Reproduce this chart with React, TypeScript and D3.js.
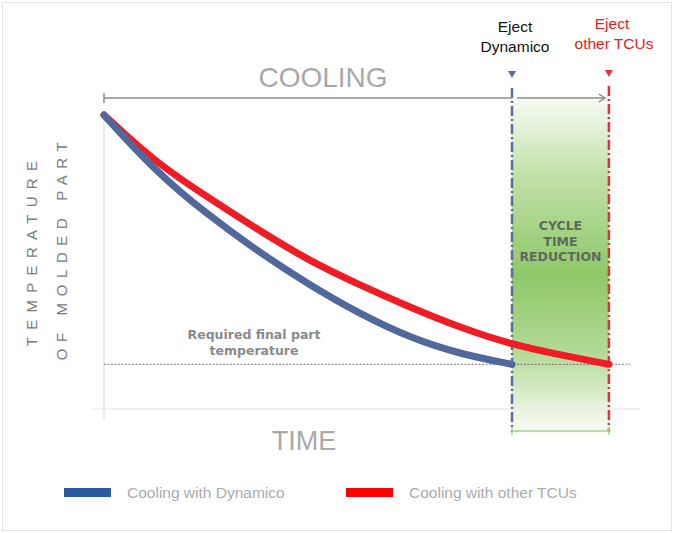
import React from 'react';
import * as d3 from 'd3';

// time (0-100) vs part temperature (0-100)
const dynamicoTime = [0, 10, 20, 30, 40, 50, 60, 70, 80];
const dynamicoTemp = [100, 81, 66.5, 53.8, 42.5, 32.5, 24.2, 18.6, 15.2];
const otherTime = [0, 10, 20, 30, 40, 50, 60, 70, 80, 90, 99];
const otherTemp = [100, 84, 72.4, 61.2, 50.6, 42.3, 34.6, 27.6, 21.9, 18.2, 15.2];
const requiredTemp = 15.2;
const ejectTimes = [80, 99];
const seriesNames = ['Cooling with Dynamico', 'Cooling with other TCUs'];
const seriesColors = ['#51689c', '#ee1c25'];
const legendColors = ['#2a5b9e', '#ff0000'];

const W = 674;
const H = 533;

export default function App() {
  const x = d3.scaleLinear().domain([0, 100]).range([104, 614]);
  const y = d3.scaleLinear().domain([0, 100]).range([409, 115]);

  const line = d3.line<[number, number]>()
    .x(d => x(d[0]))
    .y(d => y(d[1]))
    .curve(d3.curveBasis);

  const blue = dynamicoTime.map((t, i) => [t, dynamicoTemp[i]] as [number, number]);
  const red = otherTime.map((t, i) => [t, otherTemp[i]] as [number, number]);

  const xa = x(ejectTimes[0]);
  const xb = x(ejectTimes[1]);
  const yReq = y(requiredTemp);

  const font = '"Liberation Sans", Arial, sans-serif';
  const boldFont = '"DejaVu Sans", sans-serif';

  return (
    <svg width={W} height={H} style={{ position: 'absolute', left: 0, top: 0, background: '#fff' }}>
      <defs>
        <linearGradient id="green" x1="0" y1="0" x2="0" y2="1">
          <stop offset="0%" stopColor="#f6fbf2" />
          <stop offset="22%" stopColor="#c3e1aa" />
          <stop offset="52%" stopColor="#8ec867" />
          <stop offset="75%" stopColor="#b3d996" />
          <stop offset="92%" stopColor="#e8f3df" />
          <stop offset="100%" stopColor="#fcfefb" />
        </linearGradient>
      </defs>

      <rect x={2.5} y={2.5} width={W - 5} height={H - 5} fill="none" stroke="#e4e4e4" />

      {/* cycle time reduction band */}
      <rect x={xa} y={99} width={xb - xa} height={337} fill="url(#green)" />
      <g fill="#5d6a5e" fontFamily={boldFont} fontWeight="bold" fontSize={12.5} textAnchor="middle">
        <text x={(xa + xb) / 2} y={230}>CYCLE</text>
        <text x={(xa + xb) / 2} y={245.5}>TIME</text>
        <text x={(xa + xb) / 2} y={261}>REDUCTION</text>
      </g>

      {/* axes */}
      <line x1={x(0)} x2={x(0)} y1={112} y2={421} stroke="#e6e6e6" strokeWidth={1.5} />
      <line x1={92} x2={640} y1={y(0)} y2={y(0)} stroke="#ececec" strokeWidth={1.5} />

      {/* required temperature */}
      <line x1={x(0)} x2={630} y1={yReq} y2={yReq} stroke="#555" strokeWidth={0.8} strokeDasharray="2,1.5" />
      <g fill="#8a8a8a" fontFamily={boldFont} fontWeight="bold" fontSize={12.5} textAnchor="middle">
        <text x={254} y={339}>Required final part</text>
        <text x={254} y={355}>temperature</text>
      </g>

      {/* eject lines */}
      <line x1={xa} x2={xa} y1={88} y2={432} stroke="#5a6d9e" strokeWidth={2.5} strokeDasharray="10,3,2,3" />
      <line x1={xb} x2={xb} y1={86} y2={432} stroke="#e0323b" strokeWidth={2.5} strokeDasharray="10,3,2,3" />
      <path d={`M${xa - 4},${71}L${xa + 4},${71}L${xa},${78}Z`} fill="#5a6d9e" />
      <path d={`M${xb - 4},${70}L${xb + 4},${70}L${xb},${77}Z`} fill="#e0323b" />

      {/* bracket */}
      <g stroke="#a9d58c" strokeWidth={1.5}>
        <line x1={xa} x2={xb} y1={431} y2={431} />
        <line x1={xa} x2={xa} y1={427} y2={435} />
        <line x1={xb} x2={xb} y1={427} y2={435} />
      </g>

      {/* cooling arrow */}
      <g stroke="#8c8c8c" strokeWidth={1.5} fill="none">
        <line x1={x(0)} x2={xa} y1={98} y2={98} />
        <line x1={x(0)} x2={x(0)} y1={93} y2={103} />
        <line x1={xa + 5} x2={xb - 4} y1={98} y2={98} />
        <path d={`M${xb - 10},${94}L${xb - 4},${98}L${xb - 10},${102}`} />
      </g>
      <text x={323} y={87} fontFamily={font} fontSize={28} fill="#a9a9a9" textAnchor="middle">COOLING</text>
      <text x={304} y={450} fontFamily={font} fontSize={27} fill="#a9a9a9" textAnchor="middle">TIME</text>

      {/* curves */}
      <path d={line(red) ?? ''} fill="none" stroke={seriesColors[1]} strokeWidth={7} strokeLinecap="round" />
      <path d={line(blue) ?? ''} fill="none" stroke={seriesColors[0]} strokeWidth={7} strokeLinecap="round" />

      {/* y label */}
      <g fontFamily={font} fontSize={15} fill="#7a7a7a" textAnchor="middle">
        <text transform="translate(37,250) rotate(-90)" letterSpacing={7.3}>TEMPERATURE</text>
        <text transform="translate(67,248) rotate(-90)" letterSpacing={6.6}>OF MOLDED PART</text>
      </g>

      {/* eject labels */}
      <g fontFamily={font} fontSize={15.5} textAnchor="middle">
        <text x={515} y={32} fill="#111">Eject</text>
        <text x={515} y={52} fill="#111">Dynamico</text>
        <text x={612} y={29} fill="#e31b23">Eject</text>
        <text x={614} y={49} fill="#e31b23">other TCUs</text>
      </g>

      {/* legend */}
      {seriesNames.map((name, i) => (
        <g key={name} transform={`translate(${i === 0 ? 64 : 346},0)`}>
          <rect x={0} y={488} width={47} height={9} fill={legendColors[i]} />
          <text x={63} y={498} fontFamily={font} fontSize={15.5} fill="#ababab">{name}</text>
        </g>
      ))}
    </svg>
  );
}
